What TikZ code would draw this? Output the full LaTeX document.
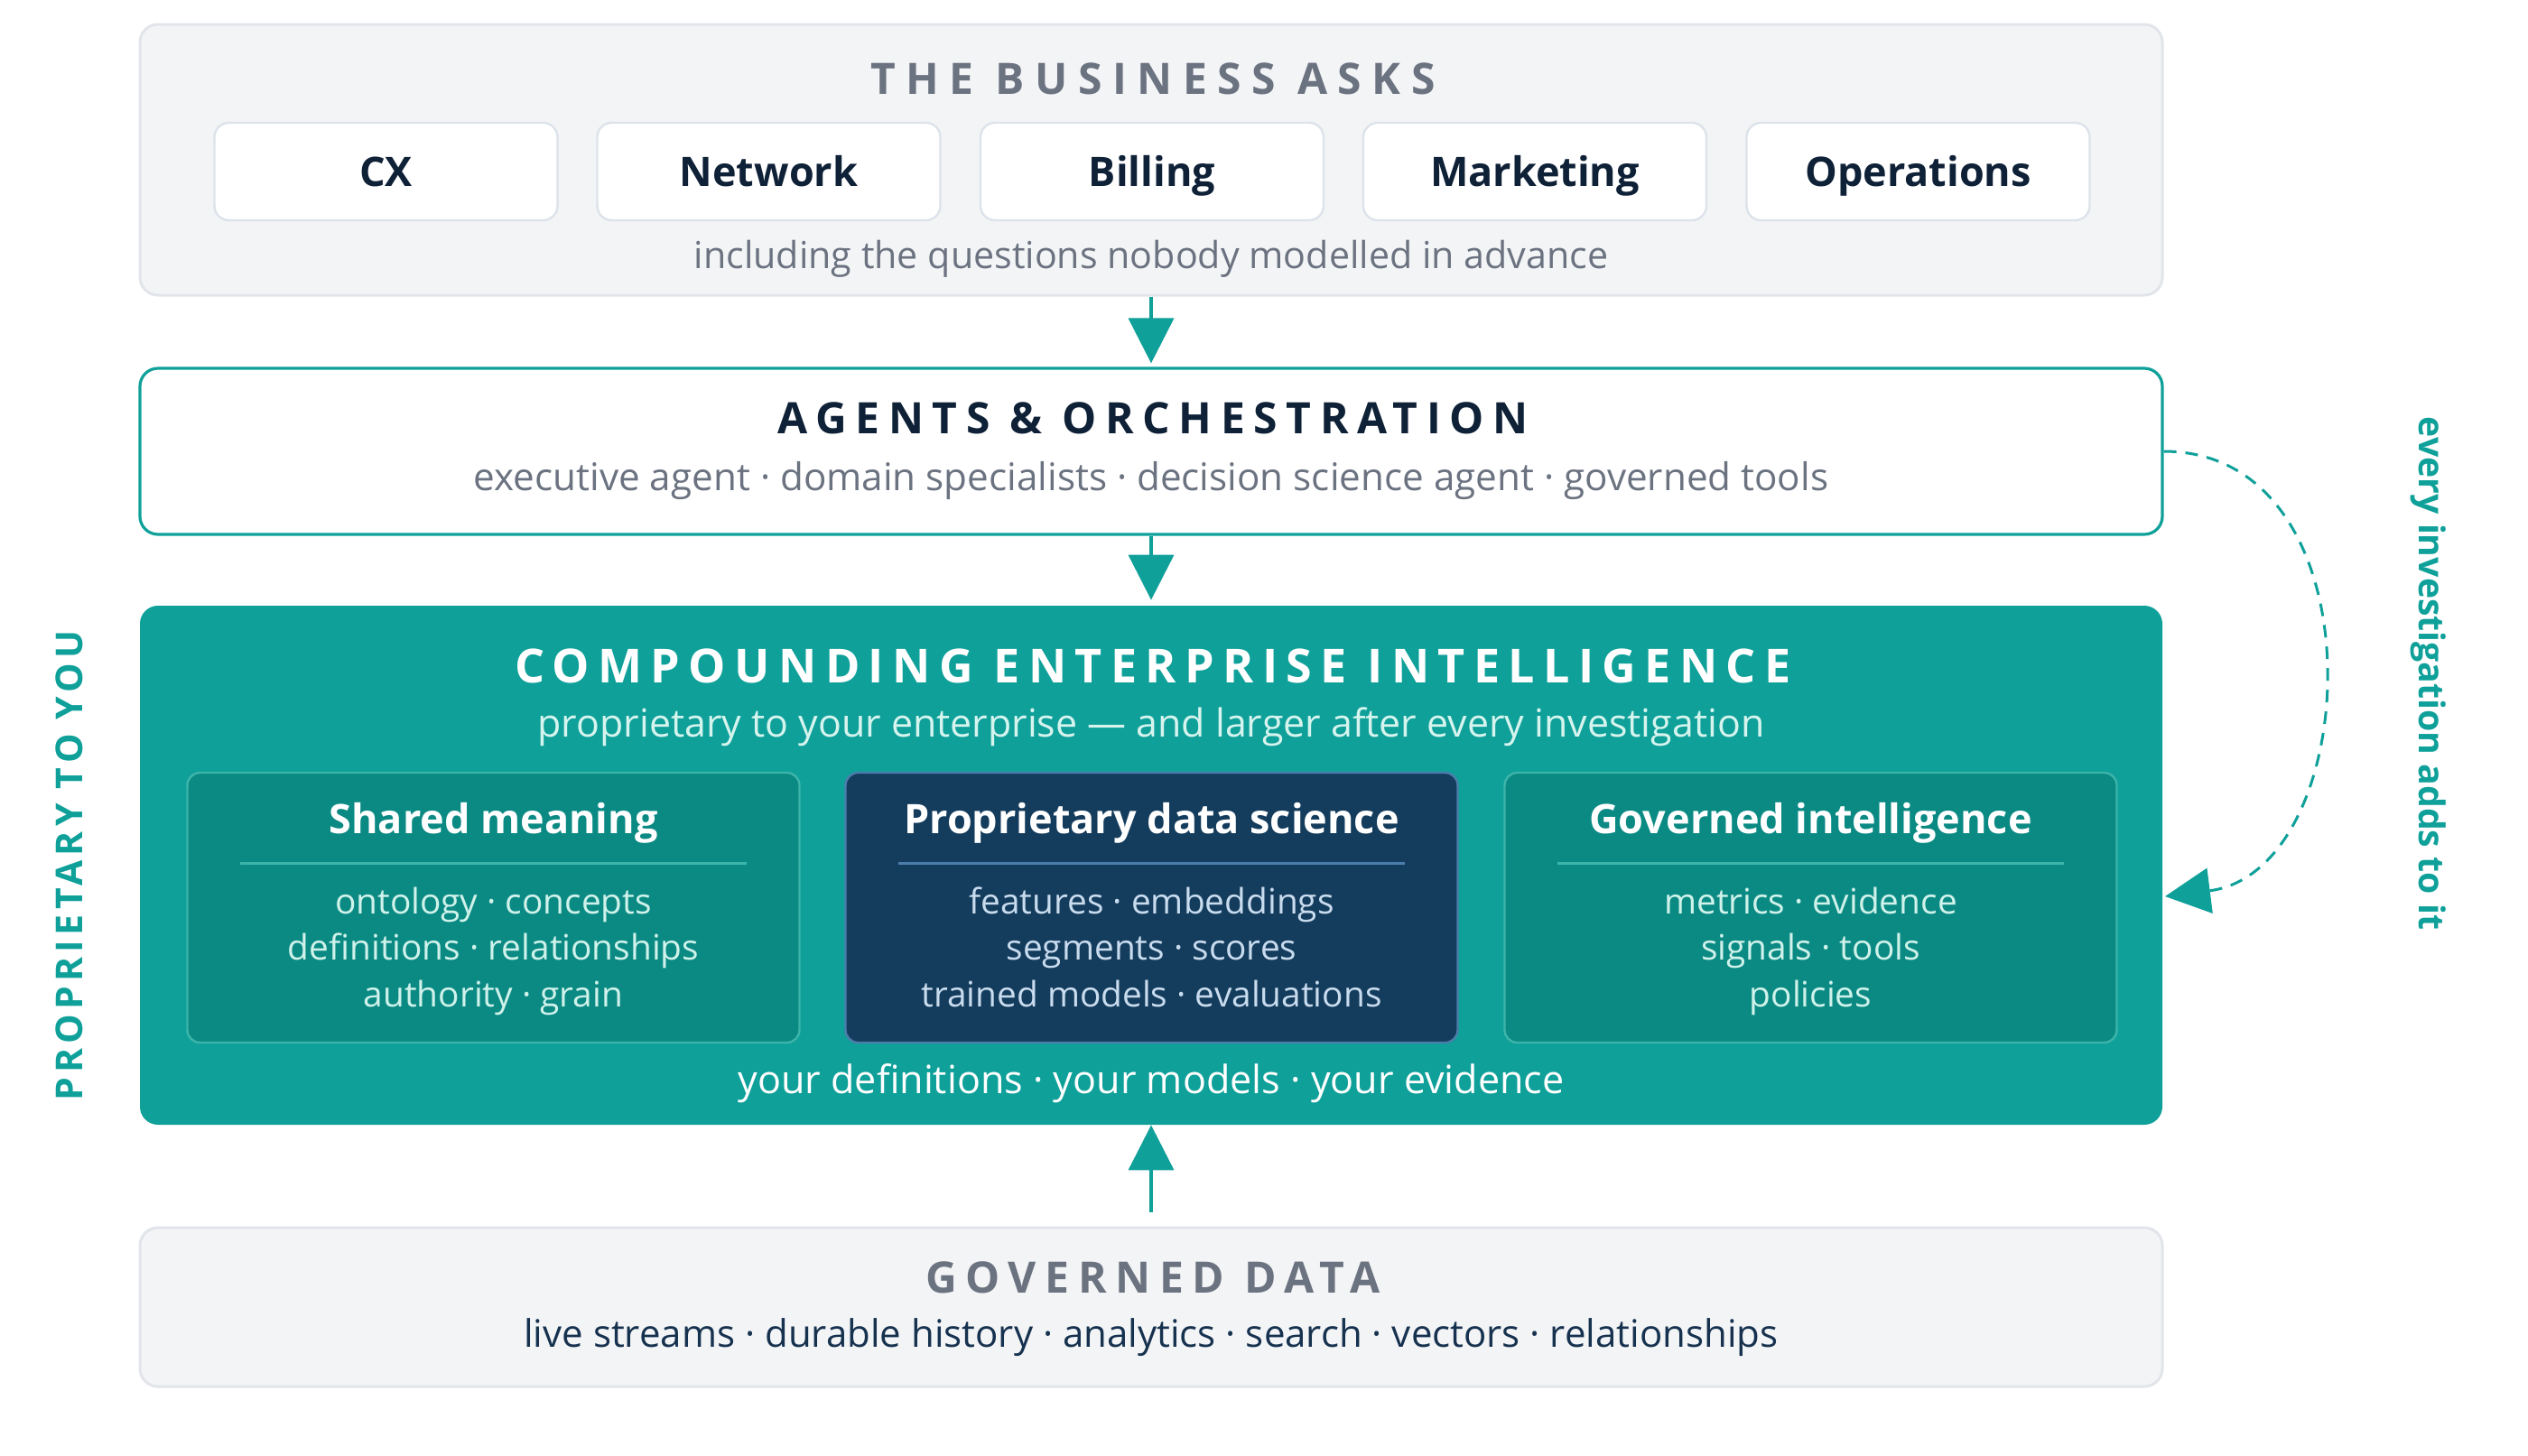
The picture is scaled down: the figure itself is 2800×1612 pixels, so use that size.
\documentclass[tikz,border=0pt]{standalone}
\usepackage{fontspec}
\IfFontExistsTF{Noto Sans Bold}{%
  \setmainfont{Noto Sans}[BoldFont={Noto Sans Bold}]
  \newfontfamily\trackA{Noto Sans}[LetterSpace=20,BoldFont={Noto Sans Bold}]
  \newfontfamily\trackD{Noto Sans}[LetterSpace=24,BoldFont={Noto Sans Bold}]
  \newfontfamily\trackB{Noto Sans}[LetterSpace=18,BoldFont={Noto Sans Bold}]
  \newfontfamily\trackC{Noto Sans}[LetterSpace=13,BoldFont={Noto Sans Bold}]
}{%
  \IfFontExistsTF{Open Sans Bold}{%
    \setmainfont{Open Sans}[BoldFont={Open Sans Bold}]
    \newfontfamily\trackA{Open Sans}[LetterSpace=20,BoldFont={Open Sans Bold}]
    \newfontfamily\trackD{Open Sans}[LetterSpace=24,BoldFont={Open Sans Bold}]
    \newfontfamily\trackB{Open Sans}[LetterSpace=18,BoldFont={Open Sans Bold}]
    \newfontfamily\trackC{Open Sans}[LetterSpace=13,BoldFont={Open Sans Bold}]
  }{%
    \setmainfont{Liberation Sans}
    \newfontfamily\trackA{Liberation Sans}[LetterSpace=20]
    \newfontfamily\trackD{Liberation Sans}[LetterSpace=24]
    \newfontfamily\trackB{Liberation Sans}[LetterSpace=18]
    \newfontfamily\trackC{Liberation Sans}[LetterSpace=13]
  }%
}
\usetikzlibrary{arrows.meta,calc}
\definecolor{panelfill}{HTML}{F3F4F6}
\definecolor{panelline}{HTML}{E1E5EA}
\definecolor{pillline}{HTML}{DDE3EA}
\definecolor{graytxt}{HTML}{6B7280}
\definecolor{navytxt}{HTML}{0F2137}
\definecolor{tealc}{HTML}{0FA09A}
\definecolor{tealdark}{HTML}{0B8A84}
\definecolor{tealline}{HTML}{3DB4AA}
\definecolor{navybox}{HTML}{143C5D}
\definecolor{navyline}{HTML}{4C7DAA}
\definecolor{mint}{HTML}{CFF2EA}
\definecolor{iceblue}{HTML}{C9DCEE}
\definecolor{subwhite}{HTML}{D6F4EE}
\definecolor{datatxt}{HTML}{16324F}
\begin{document}
\begin{tikzpicture}[x=0.5pt,y=-0.5pt,
  panel/.style={draw=panelline, line width=1.5pt, fill=panelfill, rounded corners=10pt, minimum width=1120pt, inner sep=0pt},
  pill/.style={draw=pillline, line width=1.2pt, fill=white, rounded corners=8pt, minimum width=190pt, minimum height=54pt, inner sep=0pt, text height=16pt, text depth=0pt, font=\bfseries\fontsize{22.5}{27}\selectfont, text=navytxt},
  ttl/.style={anchor=base, inner sep=0pt},
  flow/.style={draw=tealc, line width=2pt, -{Triangle[length=25pt,width=25pt]}},
  subbox/.style={rounded corners=7pt, line width=1.2pt, minimum width=339pt, minimum height=149.5pt, inner sep=0pt},
  gtitle/.style={ttl, font=\trackA\bfseries\fontsize{24}{29}\selectfont, text=graytxt},
  subttl/.style={ttl, font=\bfseries\fontsize{22.5}{27}\selectfont, text=white},
  body/.style={ttl, font=\fontsize{19.4}{24}\selectfont},
  divider/.style={line width=1.5pt}
]
\useasboundingbox (0,0) rectangle (2800,1612);

% ---------- The business asks
\node[panel, minimum height=150pt] (asks) at (1275,177) {};
\node[gtitle, font=\trackD\bfseries\fontsize{24}{29}\selectfont] (asksT) at (1277,104) {THE BUSINESS ASKS};
\node[pill] (cx)  at (427.5,190) {CX};
\node[pill] (net) at (851.5,190) {Network};
\node[pill] (bil) at (1276,190) {Billing};
\node[pill] (mkt) at (1700,190) {Marketing};
\node[pill] (ops) at (2124.5,190) {Operations};
\node[ttl, font=\fontsize{20.6}{25}\selectfont, text=graytxt] (asksS) at (1275,297) {including the questions nobody modelled in advance};

% ---------- Agents
\node[draw=tealc, line width=1.6pt, fill=white, rounded corners=10pt, minimum width=1120pt, minimum height=92pt, inner sep=0pt] (agents) at (1275,500) {};
\node[gtitle, text=navytxt] (agT) at (1277,480) {AGENTS \& ORCHESTRATION};
\node[ttl, font=\fontsize{21.1}{25}\selectfont, text=graytxt] (agS) at (1275,543) {executive agent · domain specialists · decision science agent · governed tools};

% ---------- Compounding enterprise intelligence
\node[fill=tealc, rounded corners=10pt, minimum width=1120pt, minimum height=287.5pt, inner sep=0pt] (ci) at (1275,958.5) {};
\node[ttl, font=\trackB\bfseries\fontsize{26}{31}\selectfont, text=white] (ciT) at (1277,756) {COMPOUNDING ENTERPRISE INTELLIGENCE};
\node[ttl, font=\fontsize{21.45}{25}\selectfont, text=subwhite] (ciS) at (1275,816) {proprietary to your enterprise — and larger after every investigation};

\node[subbox, fill=tealdark, draw=tealline] (sm) at (546.5,1005.5) {};
\node[subbox, fill=navybox, draw=navyline] (pds) at (1275.5,1005.5) {};
\node[subbox, fill=tealdark, draw=tealline] (gi) at (2005.5,1005.5) {};

\node[subttl] (smT) at (546.5,923) {Shared meaning};
\draw[divider, draw=tealline] ($(sm.west |- 0,956)+(60,0)$) -- ($(sm.east |- 0,956)+(-60,0)$);
\node[body, text=mint] (sm1) at (546.5,1012) {ontology · concepts};
\node[body, text=mint] (sm2) at (546.5,1063) {definitions · relationships};
\node[body, text=mint] (sm3) at (546.5,1115) {authority · grain};

\node[subttl] (pdsT) at (1275.5,923) {Proprietary data science};
\draw[divider, draw=navyline] ($(pds.west |- 0,956)+(60,0)$) -- ($(pds.east |- 0,956)+(-60,0)$);
\node[body, text=iceblue] (pds1) at (1275.5,1012) {features · embeddings};
\node[body, text=iceblue] (pds2) at (1275.5,1063) {segments · scores};
\node[body, text=iceblue] (pds3) at (1275.5,1115) {trained models · evaluations};

\node[subttl] (giT) at (2005.5,923) {Governed intelligence};
\draw[divider, draw=tealline] ($(gi.west |- 0,956)+(60,0)$) -- ($(gi.east |- 0,956)+(-60,0)$);
\node[body, text=mint] (gi1) at (2005.5,1012) {metrics · evidence};
\node[body, text=mint] (gi2) at (2005.5,1063) {signals · tools};
\node[body, text=mint] (gi3) at (2005.5,1115) {policies};

\node[ttl, font=\fontsize{21.55}{25}\selectfont, text=white] (ciB) at (1275,1211) {your definitions · your models · your evidence};

% ---------- Governed data
\node[panel, minimum height=88pt] (data) at (1275,1448) {};
\node[gtitle] (dataT) at (1277,1432) {GOVERNED DATA};
\node[ttl, font=\fontsize{21}{25}\selectfont, text=datatxt] (dataS) at (1275,1492) {live streams · durable history · analytics · search · vectors · relationships};

% ---------- side labels
\node[rotate=90, inner sep=0pt, font=\trackC\bfseries\fontsize{20.5}{24}\selectfont, text=tealc] (prop) at (77,959) {PROPRIETARY TO YOU};
\node[rotate=-90, inner sep=0pt, font=\bfseries\fontsize{19.6}{23}\selectfont, text=tealc] (every) at (2690,746) {every investigation adds to it};

% ---------- connectors
\draw[flow, shorten >=2pt] (asks.south) -- (agents.north);
\draw[flow, shorten >=3pt] (agents.south) -- (ci.north);
\draw[flow, shorten <=8pt] (data.north) -- (ci.south);
\coordinate (loopend) at (2398,993);
\draw[draw=tealc, line width=1.5pt, dash pattern=on 7pt off 5pt, -{Triangle[length=25pt,width=25pt]}]
  (agents.east) .. controls (2640,500) and (2620,965) .. (loopend);
\end{tikzpicture}
\end{document}
